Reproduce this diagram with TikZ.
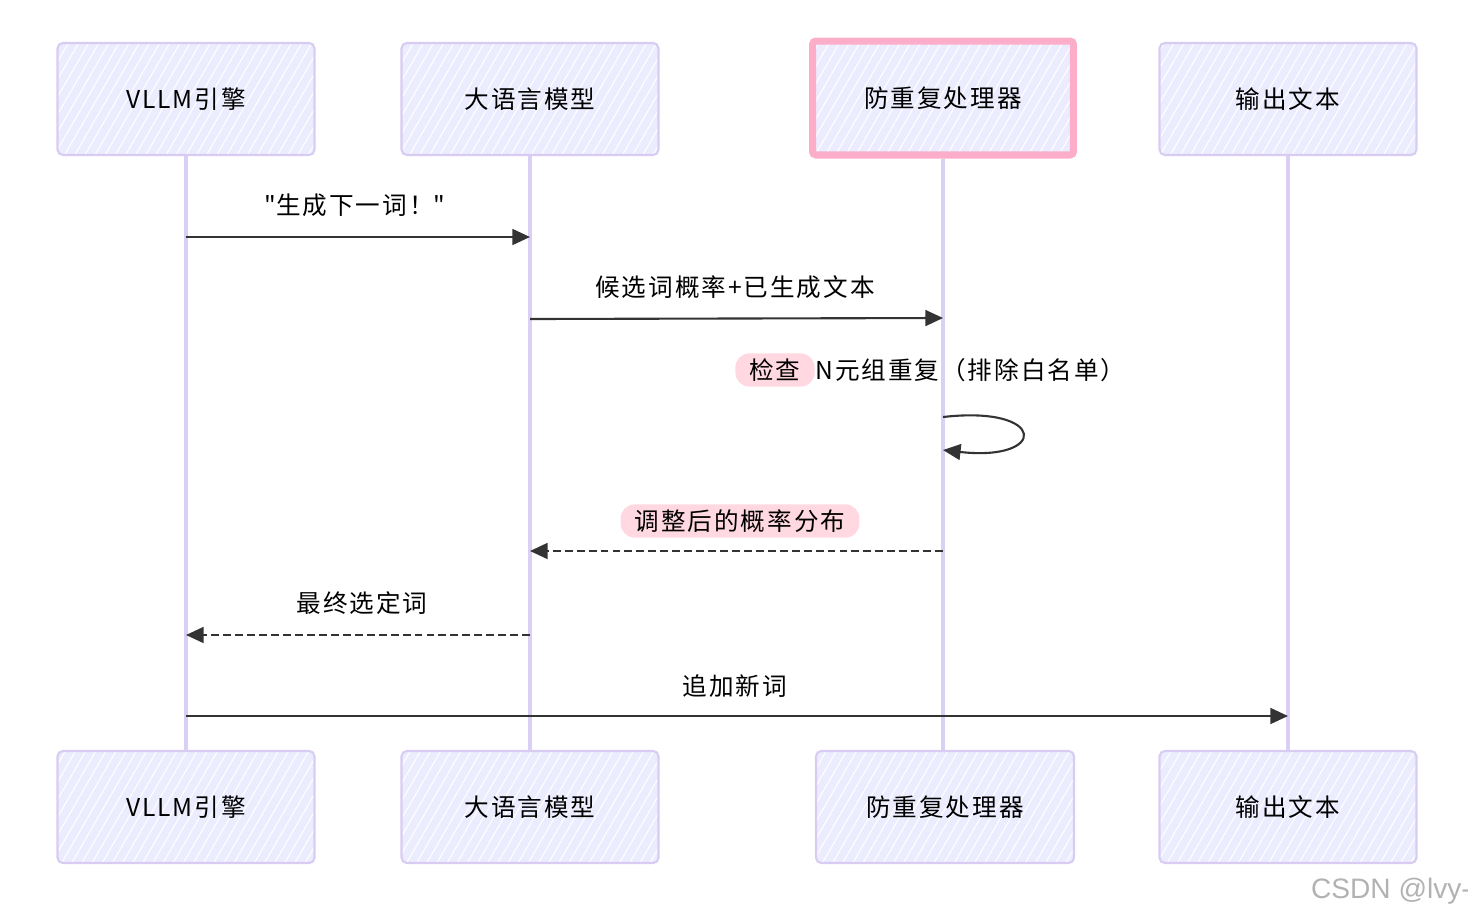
\documentclass[tikz,border=0pt]{standalone}
\usepackage{fontspec}
\setmainfont{Noto Sans CJK SC}[LetterSpace=8]
\newfontfamily\qfont{Noto Sans CJK SC}[LetterSpace=8]
\newfontfamily\wmfont{Liberation Sans}
\usepackage{xcolor}
\usetikzlibrary{arrows.meta,positioning,patterns.meta}
\definecolor{seqLav}{HTML}{ECECFF}
\definecolor{seqEdge}{HTML}{D8CCF2}
\definecolor{seqLine}{HTML}{DAD0F4}
\definecolor{seqPink}{HTML}{FBADC9}
\definecolor{seqHl}{HTML}{FFD8E2}
\definecolor{seqInk}{HTML}{333333}

\begin{document}
\begin{tikzpicture}[
  x=0.02cm, y=-0.02cm,
  every node/.style={align=center, font=\fontsize{14}{17}\selectfont},
  actor/.style={draw=seqEdge, line width=1.2pt, rounded corners=3pt, preaction={fill=seqLav},
    pattern={Lines[angle=60,distance=5pt,line width=0.6pt]}, pattern color=white,
    minimum width=5.14cm, minimum height=2.24cm, inner sep=3pt},
  hot/.style={actor, draw=seqPink, line width=4pt, rounded corners=2pt, minimum width=5.22cm, minimum height=2.28cm},
  lifeline/.style={draw=seqLine, line width=2.4pt},
  msg/.style={-{Triangle[length=10pt,width=9pt]}, line width=1.2pt, draw=seqInk},
  reply/.style={msg, dash pattern=on 4.5pt off 2.3pt},
  pill/.style={fill=seqHl, rounded corners=8pt, inner xsep=8pt, inner ysep=3pt},
]
  \useasboundingbox (0,0) rectangle (1468,917);

  % participants
  \node[actor] (vllmT) at (186,99) {VLLM引擎};
  \node[actor] (llmT) at (530,99) {大语言模型};
  \node[hot] (guardT) at (943,98) {防重复处理器};
  \node[actor] (outT) at (1288,99) {输出文本};
  \node[actor] (vllmB) at (186,807) {VLLM引擎};
  \node[actor] (llmB) at (530,807) {大语言模型};
  \node[actor, minimum width=5.16cm] (guardB) at (945,807) {防重复处理器};
  \node[actor] (outB) at (1288,807) {输出文本};

  \draw[lifeline] (vllmT) -- (vllmB);
  \draw[lifeline] (llmT) -- (llmB);
  \draw[lifeline] (guardT.south) -- (guardT.south |- guardB.north);
  \draw[lifeline] (outT) -- (outB);

  % messages
  \node (m1) at (355,205) {{\qfont"}生成下一词！{\qfont"}};
  \draw[msg] (vllmT.south |- 0,237) -- (llmT.south |- 0,237);
  \node (m2) at (735,287) {候选词概率+已生成文本};
  \draw[msg] (llmT.south |- 0,319) -- (guardT.south |- 0,318);

  \node[pill, anchor=east] (chk) at (815,370) {检查};
  \node[right=0pt of chk, inner sep=0pt] (chkRest) {N元组重复（排除白名单）};
  \draw[msg] (guardT.south |- 0,417) .. controls (1048,405) and (1048,462) .. (guardT.south |- 0,450);

  \node[pill] (m3) at (740,521) {调整后的概率分布};
  \draw[reply] (guardT.south |- 0,551) -- (llmT.south |- 0,551);
  \node (m4) at (362,603) {最终选定词};
  \draw[reply] (llmT.south |- 0,635) -- (vllmT.south |- 0,635);
  \node (m5) at (735,686) {追加新词};
  \draw[msg] (vllmT.south |- 0,716) -- (outT.south |- 0,716);

  \node[font=\wmfont\fontsize{16}{18}\selectfont, text=black!30] (mark) at (1391,891) {CSDN @lvy-};
\end{tikzpicture}
\end{document}
